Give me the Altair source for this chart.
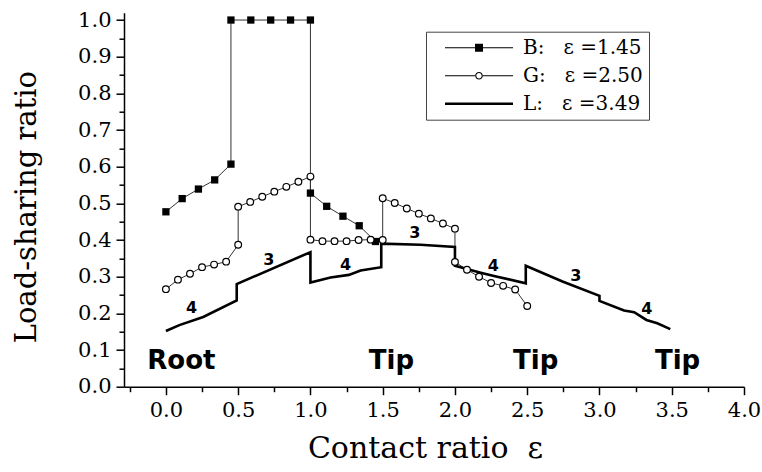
import altair as alt
import pandas as pd

NB = "\u00a0"

# ---- data ----
B_X = [0.0, 0.1125, 0.225, 0.3375, 0.45, 0.45, 0.5875, 0.725, 0.8625, 1.0, 1.0, 1.1125, 1.225, 1.3375, 1.45]
B_Y = [0.477, 0.513, 0.539, 0.564, 0.607, 1.0, 1.0, 1.0, 1.0, 1.0, 0.528, 0.492, 0.465, 0.439, 0.396]

G_X = [0.0, 0.0833, 0.1667, 0.25, 0.3333, 0.4167, 0.5,
       0.5, 0.5833, 0.6667, 0.75, 0.8333, 0.9167, 1.0,
       1.0, 1.0833, 1.1667, 1.25, 1.3333, 1.4167, 1.5,
       1.5, 1.5833, 1.6667, 1.75, 1.8333, 1.9167, 2.0,
       2.0, 2.0833, 2.1667, 2.25, 2.3333, 2.4167, 2.5]
G_Y = [0.266, 0.292, 0.308, 0.326, 0.333, 0.341, 0.387,
       0.491, 0.504, 0.518, 0.532, 0.545, 0.559, 0.573,
       0.401, 0.397, 0.397, 0.397, 0.400, 0.401, 0.400,
       0.514, 0.501, 0.486, 0.472, 0.459, 0.445, 0.431,
       0.340, 0.319, 0.300, 0.283, 0.275, 0.265, 0.220]

L_X = [0.0, 0.093, 0.258, 0.49, 0.49, 1.0, 1.0, 1.139, 1.266, 1.347, 1.49, 1.49, 1.762, 2.0, 2.0,
       2.178, 2.27, 2.49, 2.49, 2.744, 3.0, 3.0, 3.17, 3.24, 3.325, 3.40, 3.49]
L_Y = [0.152, 0.168, 0.190, 0.235, 0.280, 0.367, 0.284, 0.298, 0.305, 0.317, 0.326, 0.390, 0.387, 0.381, 0.330,
       0.311, 0.302, 0.282, 0.330, 0.287, 0.248, 0.234, 0.208, 0.203, 0.182, 0.173, 0.157]

ZONE_T = ["4", "3", "4", "3", "4", "3", "4"]
ZONE_X = [0.177, 0.712, 1.243, 1.723, 2.266, 2.836, 3.328]
ZONE_Y = [0.214, 0.346, 0.332, 0.419, 0.330, 0.302, 0.211]

POS_T = ["Root", "Tip", "Tip", "Tip"]
POS_X = [0.107, 1.56, 2.559, 3.54]
POS_Y = [0.047, 0.047, 0.047, 0.047]

LABELS = ["B:" + NB * 3 + "ε" + NB + "=1.45",
          "G:" + NB * 3 + "ε" + NB + "=2.50",
          "L:" + NB * 3 + "ε" + NB + "=3.49"]

X_TICKS = [-0.25, 0.0, 0.25, 0.5, 0.75, 1.0, 1.25, 1.5, 1.75, 2.0, 2.25, 2.5, 2.75,
           3.0, 3.25, 3.5, 3.75, 4.0]
Y_TICKS = [0.0, 0.05, 0.1, 0.15, 0.2, 0.25, 0.3, 0.35, 0.4, 0.45, 0.5, 0.55, 0.6, 0.65,
           0.7, 0.75, 0.8, 0.85, 0.9, 0.95, 1.0]


def frame(xs, ys, name):
    return pd.DataFrame({"x": xs, "y": ys, "series": name, "i": list(range(len(xs)))})


b_df = frame(B_X, B_Y, LABELS[0])
g_df = frame(G_X, G_Y, LABELS[1])
l_df = frame(L_X, L_Y, LABELS[2])
bg_df = pd.concat([b_df, g_df], ignore_index=True)
zone_df = pd.DataFrame({"x": ZONE_X, "y": ZONE_Y, "t": ZONE_T})
pos_df = pd.DataFrame({"x": POS_X, "y": POS_Y, "t": POS_T})

SERIF = "DejaVu Serif"

x_half = "abs(datum.value*2 - round(datum.value*2)) < 0.000001"
y_tenth = "abs(datum.value*10 - round(datum.value*10)) < 0.000001"

xaxis = alt.Axis(
    values=X_TICKS,
    labelExpr=f"{x_half} ? format(datum.value, '.1f') : ''",
    tickSize={"condition": {"test": x_half, "value": 8}, "value": 5},
    tickColor="black", tickWidth=1.5, domainColor="black", domainWidth=1.5,
    labelFont=SERIF, labelFontSize=21, labelColor="black", labelPadding=5,
    labelOverlap=False, labelFlush=False, grid=False,
    title="Contact ratio" + NB * 2 + "ε", titleFont=SERIF, titleFontSize=30,
    titleFontWeight="normal", titleColor="black",
    titleX=301, titleY=71, titleAlign="center", titleBaseline="alphabetic",
)
yaxis = alt.Axis(
    values=Y_TICKS,
    labelExpr=f"{y_tenth} ? format(datum.value, '.1f') : ''",
    tickSize={"condition": {"test": y_tenth, "value": 8}, "value": 5},
    tickColor="black", tickWidth=1.5, domainColor="black", domainWidth=1.5,
    labelFont=SERIF, labelFontSize=21, labelColor="black", labelPadding=5,
    labelOverlap=False, labelFlush=False, grid=False,
    title="Load-sharing ratio", titleFont=SERIF, titleFontSize=29,
    titleFontWeight="normal", titleColor="black",
    titleX=-89, titleY=194, titleAlign="center", titleBaseline="alphabetic", titleAngle=270,
)

xscale = alt.Scale(domain=[-0.29, 4.0], nice=False, zero=False)
yscale = alt.Scale(domain=[0, 1.02], nice=False, zero=False)
X = alt.X("x:Q", scale=xscale, axis=xaxis)
Y = alt.Y("y:Q", scale=yscale, axis=yaxis)

bg_line = alt.Chart(bg_df).mark_line(color="#333333", strokeWidth=1).encode(
    x=X, y=Y, detail="series:N", order="i:Q")
l_line = alt.Chart(l_df).mark_line(color="black", strokeWidth=2.6).encode(
    x=X, y=Y, order="i:Q")
b_pts = alt.Chart(b_df).mark_point(shape="square", filled=True, color="black",
                                   size=53, opacity=1).encode(x=X, y=Y)
g_pts = alt.Chart(g_df).mark_point(shape="circle", filled=True, fill="white", stroke="black",
                                   strokeWidth=1.2, size=45, opacity=1).encode(x=X, y=Y)
zone_txt = alt.Chart(zone_df).mark_text(font="DejaVu Sans", fontWeight="bold", fontSize=16,
                                        baseline="middle", align="center", color="black").encode(
    x=X, y=Y, text="t:N")
pos_txt = alt.Chart(pos_df).mark_text(font="DejaVu Sans", fontWeight="bold", fontSize=26,
                                      baseline="alphabetic", align="center", color="black").encode(
    x=X, y=Y, text="t:N")

# legend symbols: filled geometry only (thin bars for lines, ring for the open circle)
PATHS = [
    "M-3.4,-0.05H-0.4V0.05H-3.4Z M0.4,-0.05H3.4V0.05H0.4Z M-0.4,-0.4H0.4V0.4H-0.4Z",
    "M-3.4,-0.05H-0.36V0.05H-3.4Z M0.36,-0.05H3.4V0.05H0.36Z "
    "M-0.38,0A0.38,0.38 0 1,0 0.38,0A0.38,0.38 0 1,0 -0.38,0Z "
    "M-0.27,0A0.27,0.27 0 1,1 0.27,0A0.27,0.27 0 1,1 -0.27,0Z",
    "M-3.4,-0.13H3.4V0.13H-3.4Z",
]
LEG = alt.Legend(title=None, orient="none", legendX=302, legendY=19, padding=6,
                 strokeColor="#444444", fillColor="white", symbolSize=400,
                 symbolOffset=37, labelOffset=34, labelFont=SERIF, labelFontSize=20,
                 labelColor="black", labelLimit=400, rowPadding=8,
                 symbolFillColor="black", symbolStrokeWidth=0, symbolOpacity=1)

legend_layer = alt.Chart(bg_df).transform_filter("datum.x > 100").mark_point(
    filled=True, opacity=1, color="black").encode(
    x=X, y=Y,
    shape=alt.Shape("series:N", scale=alt.Scale(domain=LABELS, range=PATHS), legend=LEG),
)

chart = alt.layer(bg_line, l_line, b_pts, g_pts, zone_txt, pos_txt, legend_layer).properties(
    width=620, height=374,
    autosize=alt.AutoSizeParams(type="none"),
    padding={"left": 124, "top": 12.7, "right": 18, "bottom": 85.3},
    background="white",
).configure_view(strokeWidth=0)

chart.save("out.html", embed_options={"renderer": "svg", "actions": False})
